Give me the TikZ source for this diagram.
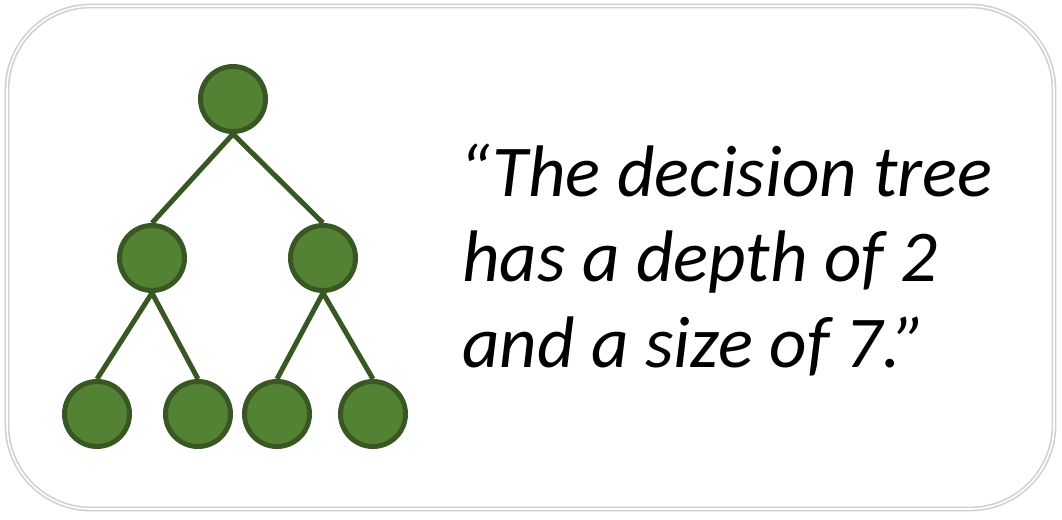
\documentclass[tikz,border=0pt]{standalone}
\usepackage{fontspec}
\setmainfont{Carlito}
\usetikzlibrary{positioning}
\definecolor{treegreen}{RGB}{84,130,53}
\definecolor{treedark}{RGB}{56,87,35}
\definecolor{framegrey}{RGB}{208,208,208}
\tikzset{
  treenode/.style={draw=treedark, circle, fill=treegreen, line width=5pt, minimum size=65pt, inner sep=0pt},
  treeedge/.style={draw=treedark, line width=5pt}
}

\begin{document}
\begin{tikzpicture}[x=1pt, y=-1pt]
        \useasboundingbox (0, 0) rectangle (1062, 519);
        \draw [framegrey, line width=1.6pt, double=white, double distance=1.6pt, rounded corners=84pt] (7, 6) rectangle (1054, 509);

        \node [treenode] (NA) at (233, 99) {};
        \node [treenode] (NB) at (152, 258) {};
        \node [treenode] (NC) at (323, 258) {};
        \node [treenode] (ND) at (97, 414) {};
        \node [treenode] (NE) at (198, 414) {};
        \node [treenode] (NF) at (277, 414) {};
        \node [treenode] (NG) at (373, 414) {};
        \draw [treeedge] (NA.south) -- (NB.north);
        \draw [treeedge] (NA.south) -- (NC.north);
        \draw [treeedge] (NB.south) -- (ND.north);
        \draw [treeedge] (NB.south) -- (NE.north);
        \draw [treeedge] (NC.south) -- (NF.north);
        \draw [treeedge] (NC.south) -- (NG.north);

        \node [anchor=base west, align=left, inner sep=0pt, font=\fontsize{73}{85.5}\selectfont\itshape] (NQ) at (462, 367)
            {\hspace{-3pt}“The decision tree\\has a depth of 2\\and a size of 7.”};
    \end{tikzpicture}
\end{document}
